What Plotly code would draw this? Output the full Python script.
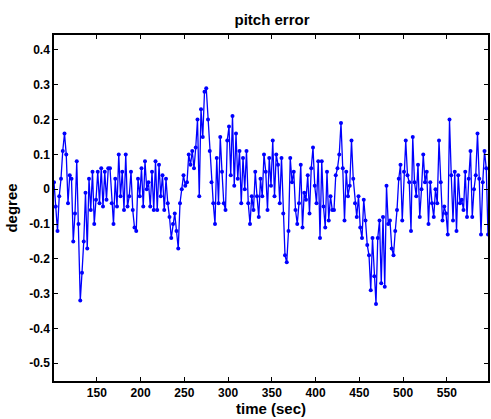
import plotly.graph_objects as go

# sample times (s), one sample every 2 seconds
time_sec = list(range(101, 598, 2))

pitch_err_a = [0.02, -0.05, -0.12, -0.02, 0.03, 0.11, 0.16, 0.10, -0.04, 0.04, 0.03, -0.15, -0.07, 0.08, -0.10, -0.32,
               -0.24, -0.15, -0.01, -0.17, 0.03, -0.06, 0.05, -0.10, -0.03, 0.05, -0.04, 0.06, -0.05, 0.05, -0.03, 0.06]
pitch_err_b = [0.06, -0.04, -0.10, 0.03, -0.05, 0.10, -0.02, 0.05, -0.06, 0.10, -0.05, -0.02, 0.05, -0.06, -0.11, -0.12,
               0.03, -0.02, 0.06, -0.05, 0.08, 0.00, 0.02, -0.05, 0.05, -0.06, 0.08, -0.06, 0.07, -0.02, 0.04, -0.06]
pitch_err_c = [0.03, -0.04, -0.08, -0.14, -0.10, -0.07, -0.12, -0.17, -0.04, 0.00, 0.04, 0.01, 0.02, 0.10, 0.07, 0.11,
               0.06, 0.12, 0.20, -0.02, 0.23, 0.15, 0.28, 0.29, 0.20, 0.11, 0.02, -0.04, -0.10, 0.09, -0.04, 0.15]
pitch_err_d = [0.05, -0.04, -0.06, 0.14, 0.18, 0.04, 0.21, 0.01, 0.16, 0.03, 0.11, -0.04, 0.09, 0.00, 0.11, -0.04,
               -0.10, -0.02, -0.06, 0.05, -0.02, -0.08, 0.03, -0.02, 0.10, 0.05, -0.06, 0.09, 0.01, 0.14, -0.02, 0.10]
pitch_err_e = [0.07, -0.04, 0.09, -0.07, -0.19, -0.21, -0.12, 0.09, 0.02, 0.05, -0.06, -0.10, -0.04, 0.07, -0.11, -0.01,
               -0.03, 0.04, -0.07, 0.06, 0.12, 0.01, -0.04, 0.08, -0.14, 0.08, -0.05, -0.11, 0.05, -0.09, -0.02, -0.06]
pitch_err_f = [-0.06, 0.04, 0.06, 0.10, 0.19, 0.06, -0.09, 0.05, -0.02, 0.01, 0.14, 0.03, -0.04, -0.08, -0.02, -0.11,
               -0.14, -0.03, -0.09, -0.16, -0.19, -0.29, -0.14, -0.25, -0.33, -0.14, -0.09, -0.27, -0.08, -0.28, 0.01, -0.10]
pitch_err_g = [-0.09, -0.17, -0.19, -0.12, -0.06, 0.03, 0.07, -0.09, 0.05, 0.14, 0.04, 0.02, -0.12, 0.15, 0.02, -0.02,
               0.07, -0.08, 0.00, 0.10, 0.02, 0.05, -0.10, 0.02, -0.04, -0.08, 0.00, -0.04, 0.14, 0.02, -0.09, -0.05]
pitch_err_h = [-0.07, -0.13, 0.20, 0.04, -0.09, 0.05, -0.12, 0.04, -0.04, -0.03, -0.06, 0.05, -0.08, 0.03, 0.11, -0.08,
               0.00, 0.04, 0.16, 0.03, -0.13, 0.02, 0.11, 0.06, -0.13]

pitch_err = (pitch_err_a + pitch_err_b + pitch_err_c + pitch_err_d +
             pitch_err_e + pitch_err_f + pitch_err_g + pitch_err_h)

x_ticks = [150, 200, 250, 300, 350, 400, 450, 500, 550]
y_ticks = [-0.5, -0.4, -0.3, -0.2, -0.1, 0, 0.1, 0.2, 0.3, 0.4]
y_tick_text = ["-0.5", "-0.4", "-0.3", "-0.2", "-0.1", "0", "0.1", "0.2", "0.3", "0.4"]

FONT = "Liberation Sans"

fig = go.Figure()
fig.add_trace(go.Scatter(
    x=time_sec, y=pitch_err, mode="lines+markers",
    line=dict(color="#0000ff", width=1.3),
    marker=dict(color="#0000ff", size=4),
    showlegend=False, cliponaxis=True,
))

fig.update_layout(
    width=491, height=419,
    margin=dict(l=54, r=1, t=35, b=38),
    paper_bgcolor="white", plot_bgcolor="white",
    font=dict(family=FONT, color="black", size=12),
    title=dict(text="<b>pitch error</b>", x=272 / 491, xanchor="center",
               y=1 - 20 / 419, yanchor="middle", yref="container",
               font=dict(family=FONT, size=15, color="black")),
)
fig.update_xaxes(
    range=[101, 597], tickvals=x_ticks, ticktext=[f"<b>{v}</b>" for v in x_ticks],
    ticks="inside", ticklen=4, tickwidth=1, tickcolor="black",
    showline=True, linecolor="black", linewidth=1.5, mirror="ticks",
    showgrid=False, zeroline=False,
    tickfont=dict(family=FONT, size=12, color="black"),
    title=dict(text="<b>time (sec)</b>", standoff=2, font=dict(family=FONT, size=15, color="black")),
)
fig.update_yaxes(
    range=[-0.551, 0.443], tickvals=y_ticks, ticktext=[f"<b>{t}</b>" for t in y_tick_text],
    ticks="inside", ticklen=4, tickwidth=1, tickcolor="black",
    showline=True, linecolor="black", linewidth=1.5, mirror="ticks",
    showgrid=False, zeroline=False,
    tickfont=dict(family=FONT, size=12, color="black"),
    title=dict(text="<b>degree</b>", standoff=8, font=dict(family=FONT, size=15, color="black")),
)

fig.write_html("out.html")
